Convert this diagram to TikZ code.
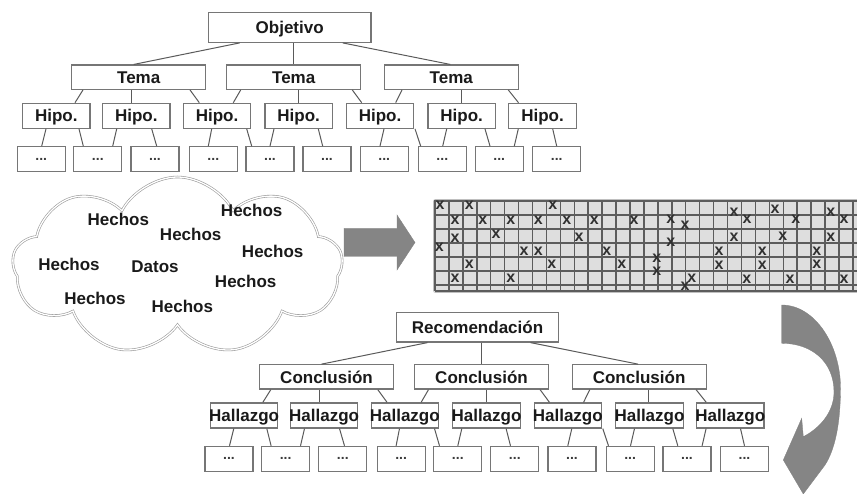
\documentclass[tikz,border=0pt]{standalone}
\usepackage{fontspec}
\setmainfont{Liberation Sans}
\usetikzlibrary{shapes.symbols,calc}

\definecolor{boxline}{HTML}{767676}
\definecolor{linkline}{HTML}{5A5A5A}
\definecolor{ink}{HTML}{1A1A1A}
\definecolor{arrowgray}{HTML}{858585}
\definecolor{cellgray}{HTML}{DEDEDE}
\definecolor{gridline}{HTML}{5C5C5C}
\definecolor{cloudline}{HTML}{9A9A9A}

\tikzset{
  box/.style={draw=boxline, line width=1.2pt, fill=white, inner sep=0pt, text=ink,
    font=\fontsize{17}{20}\selectfont\bfseries, text height=12.2pt, text depth=0pt},
  leafbox/.style={draw=boxline, line width=1.2pt, fill=white, minimum width=48pt,
    minimum height=25pt, inner sep=0pt, text=ink!85, font=\fontsize{14}{16}\selectfont\bfseries},
  link/.style={draw=linkline, line width=1pt},
  fact/.style={text=ink, font=\fontsize{17}{20}\selectfont\bfseries, inner sep=0pt},
  xmark/.style={text=ink!90, font=\fontsize{16}{16}\selectfont\bfseries, inner sep=0pt},
}

% A three-level tree: root, three middle boxes, seven sub-boxes, ten leaves.
% #1 name prefix, #2 shift, #3 root text, #4 middle text, #5 sub-box text
\newcommand{\orgtree}[5]{%
  \begin{scope}[shift={#2}]
    \node[box, minimum width=162.7pt, minimum height=29.6pt] (#1r) at (289.7,27.5) {#3};
    \foreach \i/\x in {1/138.7,2/293.7,3/451.3}
      \node[box, minimum width=134pt, minimum height=24.3pt] (#1m\i) at (\x,77.2) {#4};
    \foreach \i/\x in {1/56.3,2/136.3,3/217,4/298.7,5/380,6/461.7,7/542.5}
      \node[box, minimum width=67.3pt, minimum height=25pt] (#1h\i) at (\x,115.8) {\makebox[40pt]{#5}};
    \foreach \i/\x in {1/41.2,2/97.8,3/155,4/213.3,5/270,6/327,7/384.2,8/442.3,9/499.2,10/556.7}
      \node[leafbox] (#1l\i) at (\x,159.2) {...};
  \end{scope}
  \draw[link] ([xshift=-50pt]#1r.south) -- ([xshift=-5pt]#1m1.north);
  \draw[link] ([xshift=4pt]#1r.south) -- (#1m2.north);
  \draw[link] ([xshift=53pt]#1r.south) -- ([xshift=-1pt]#1m3.north);
  \foreach \p/\c/\a/\b in {1/1/-55.7/18.7, 1/2/-7/-4.6, 1/3/51.3/-17.7,
      2/3/-53/16.3, 2/4/4.6/-0.4, 2/5/58.6/-18.3,
      3/5/-49.3/15.7, 3/6/9.7/-0.7, 3/7/57/-24}
    \draw[link] ([xshift=\a pt]#1m\p.south) -- ([xshift=\b pt]#1h\c.north);
  \foreach \p/\c/\a/\b in {1/1/-10.3/0.5, 1/2/22.7/-14.5, 2/2/-19.6/14.9, 2/3/15.4/1.7,
      3/4/-5.3/-5, 3/5/29.7/-18.3, 4/5/-24.7/0, 4/6/19.6/-4.3,
      5/7/4/-4.2, 5/8/35/-21.6, 6/8/-15/0.4, 6/9/23.3/-9.2,
      7/9/-24.2/15.1, 7/10/10.2/0}
    \draw[link] ([xshift=\a pt]#1h\p.south) -- ([xshift=\b pt]#1l\c.north);
}

\begin{document}
\begin{tikzpicture}[x=1pt, y=-1pt]
  \useasboundingbox (0,0) rectangle (857,494);
  \fill[white] (0,0) rectangle (857,494);

  % upper tree
  \orgtree{t}{(0,0)}{Objetivo}{Tema}{Hipo.}

  % cloud of facts
  \node[cloud, cloud puffs=9, cloud puff arc=125, aspect=1.85,
        minimum width=330pt, minimum height=178pt,
        draw=cloudline, double=white, double distance=1.3pt, line width=0.6pt] (cloud) at (177.5,266) {};
  \node[fact] (f1) at (118.3,219) {Hechos};
  \node[fact] (f2) at (251.7,210) {Hechos};
  \node[fact] (f3) at (190.7,234) {Hechos};
  \node[fact] (f4) at (272.7,251.7) {Hechos};
  \node[fact] (f5) at (69,264) {Hechos};
  \node[fact] (datos) at (155,266.7) {Datos};
  \node[fact] (f6) at (245.7,281) {Hechos};
  \node[fact] (f7) at (95,298.3) {Hechos};
  \node[fact] (f8) at (182.3,306.7) {Hechos};

  % straight block arrow
  \fill[arrowgray, draw=black!50, line width=0.3pt]
    (344,228.3) -- (397,228.3) -- (397,215) -- (415,242.5) -- (397,270)
    -- (397,256.5) -- (344,256.5) -- cycle;

  % data matrix
  \draw[black!25, line width=0.8pt, rounded corners=2pt] (433.5,199.5) rectangle (880,292.5);
  \begin{scope}
    \clip (433,199) rectangle (857,293);
    \fill[cellgray] (434.5,200.5) rectangle (880,291.5);
    \foreach \k in {0,...,31}
      \draw[gridline, line width=1.5pt] ({435+13.93*\k},200.5) -- ++(0,91);
    \foreach \y in {201,215,229,243,257,271,285,291}
      \draw[gridline, line width=1.5pt] (434.5,\y) -- (880,\y);
  \end{scope}
  \foreach \x/\y [count=\n] in {440/205, 469.3/205, 552.7/205, 734/212.7, 775/209, 830.7/212.7,
      455/220, 482.7/220, 510.7/220, 538.3/220, 566.7/220, 594.3/220, 634/220,
      670.7/219, 747/219, 795.7/219, 844/219, 685/225,
      455/238.3, 496/234.3, 579/237.7, 734/237.7, 782.7/236.7, 830.7/237.7,
      670.7/242.7, 439.3/247.3,
      524/251, 538.3/251, 606.7/251, 719/251, 762.3/251, 816.7/251,
      656.7/258,
      469.3/264, 551.7/264, 621.7/264, 719/265, 762.3/265, 816.7/264,
      656.7/271,
      455/278.3, 510.7/278.3, 691.7/278, 746.7/279, 790/279, 844/279,
      685/286.7}
    \node[xmark] (x\n) at (\x,\y) {x};

  % curved block arrow
  \fill[arrowgray, draw=black!50, line width=0.3pt]
    (781.7,305) .. controls (815,305) and (840.5,345) .. (840.5,388)
    .. controls (840.5,420) and (836,448) .. (825,465)
    -- (803.3,494) -- (783.3,460) -- (801.7,418.3) -- (803.3,436.7)
    .. controls (820,428) and (834,412) .. (834,392)
    .. controls (834,362) and (812,343.3) .. (781.7,343.3) -- cycle;

  % lower tree
  \orgtree{b}{(187.8,299.7)}{Recomendación}{Conclusión}{Hallazgo}
\end{tikzpicture}
\end{document}
